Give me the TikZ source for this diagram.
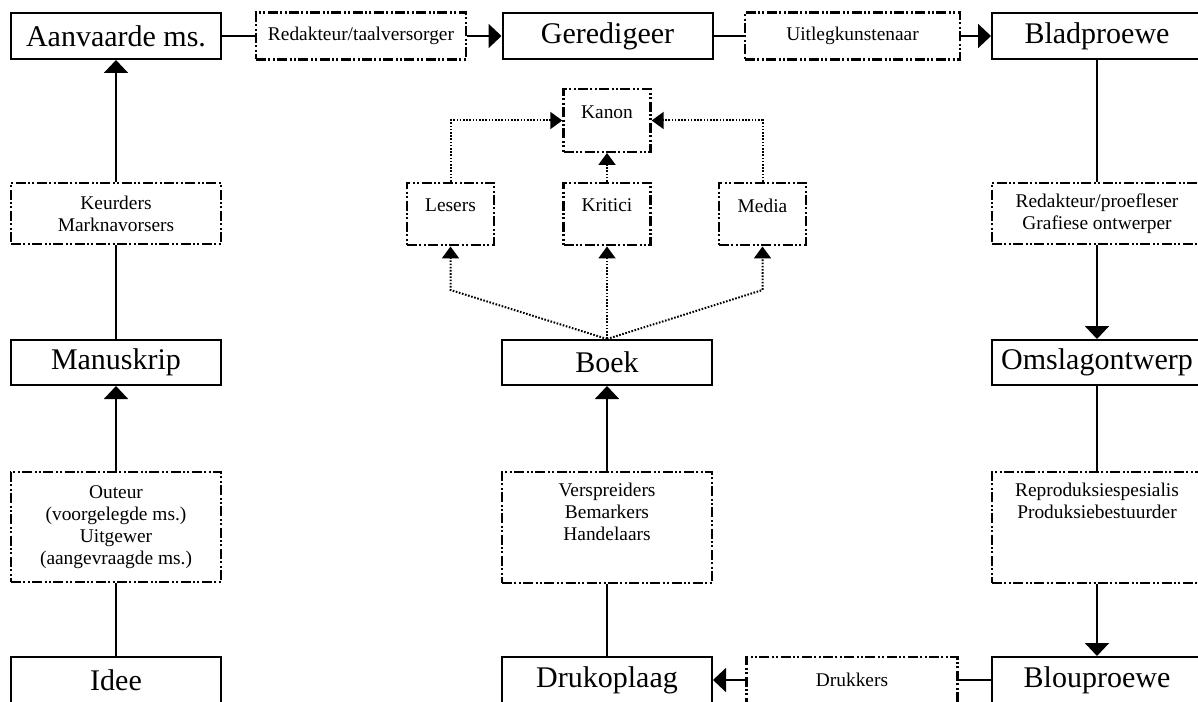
\documentclass[tikz,border=0pt]{standalone}
\usepackage{fontspec}
\setmainfont{Liberation Serif}
\usetikzlibrary{arrows.meta,calc}
\begin{document}
\begin{tikzpicture}[x=0.5pt,y=-0.5pt,
  mainbox/.style={draw, line width=1pt, inner sep=0pt, minimum width=105pt, minimum height=23pt, font=\fontsize{15}{18}\selectfont},
  ddbox/.style={draw, line width=1.2pt, dash pattern=on 5pt off 1.2pt on 1pt off 1.2pt on 1pt off 1.2pt, inner sep=0pt, align=center, minimum width=105pt, font=\fontsize{9.7}{11}\selectfont},
  smallbox/.style={ddbox, minimum width=43.5pt, minimum height=31.25pt, text depth=8.5pt},
  smalltext/.style={inner sep=0pt, align=center, font=\fontsize{9.7}{11}\selectfont},
  conn/.style={line width=1pt},
  arr/.style={conn, -{Triangle[width=12pt,length=6.5pt]}},
  dotconn/.style={line width=1pt, dash pattern=on 0.8pt off 0.8pt},
  dotarr/.style={dotconn, -{Triangle[width=8.5pt,length=6pt]}}
]
\useasboundingbox (0,0) rectangle (1198,701);
\clip (0,0) rectangle (1198,701);
% top row
\node[mainbox] (aan) at (116,36) {Aanvaarde ms.};
\node[ddbox, minimum height=23.5pt] (red1) at (361,36) {Redakteur/taalversorger};
\node[mainbox] (ger) at (607.5,36) {Geredigeer};
\node[ddbox, minimum width=107.5pt, minimum height=23.5pt] (uit) at (852.5,36) {Uitlegkunstenaar};
\node[mainbox] (blad) at (1097,36) {Bladproewe};
% left column
\node[ddbox, minimum height=30.5pt] (keur) at (116,213.5) {Keurders\\Marknavorsers};
\node[mainbox, minimum height=22.5pt] (manu) at (116,362.5) {Manuskrip};
\node[ddbox, minimum height=55pt] (out) at (116,527) {Outeur\\(voorgelegde ms.)\\Uitgewer\\(aangevraagde ms.)};
\node[mainbox] (idee) at (116,680) {Idee};
% centre column
\node[smallbox] (kanon) at (607,120.5) {Kanon};
\node[smallbox] (les) at (450.5,214) {Lesers};
\node[smallbox] (krit) at (607,214) {Kritici};
\node[smallbox] (med) at (762.5,214) {Media};
\node[mainbox, minimum height=22.5pt] (boek) at (607,362.5) {Boek};
\node[ddbox, minimum height=55.5pt] (versp) at (607,527.5) {};
\node[smalltext, anchor=north] (verspt) at ([yshift=-6pt]versp.north) {Verspreiders\\Bemarkers\\Handelaars};
\node[mainbox] (druk) at (607,680) {Drukoplaag};
\node[ddbox, minimum width=105.5pt, minimum height=23pt] (drukk) at (852,680) {Drukkers};
% right column
\node[ddbox, minimum height=30.5pt] (redp) at (1097,213.5) {Redakteur/proefleser\\Grafiese ontwerper};
\node[mainbox, minimum height=22.5pt] (oms) at (1097,362.5) {Omslagontwerp};
\node[ddbox, minimum height=55.5pt] (repr) at (1097,527.5) {};
\node[smalltext, anchor=north] (reprt) at ([yshift=-6pt]repr.north) {Reproduksiespesialis\\Produksiebestuurder};
\node[mainbox] (blou) at (1097,680) {Blouproewe};
% connectors
\draw[conn] (aan) -- (red1);
\draw[arr] (red1) -- (ger);
\draw[conn] (ger) -- (uit);
\draw[arr] (uit) -- (blad);
\draw[conn] (blad) -- (redp);
\draw[arr] (redp) -- (oms);
\draw[conn] (oms) -- (repr);
\draw[arr] (repr) -- (blou);
\draw[conn] (blou) -- (drukk);
\draw[arr] (drukk) -- (druk);
\draw[conn] (druk) -- (versp);
\draw[arr] (versp) -- (boek);
\draw[conn] (idee) -- (out);
\draw[arr] (out) -- (manu);
\draw[conn] (manu) -- (keur);
\draw[arr] (keur) -- (aan);
% dotted connectors
\coordinate (lb) at (450.5,290);
\coordinate (mb) at (762.5,290);
\draw[dotarr] (les.north) |- (kanon.west);
\draw[dotarr] (med.north) |- (kanon.east);
\draw[dotarr] (krit) -- (kanon);
\draw[dotarr] (boek.north) -- (lb) -- (les.south);
\draw[dotarr] (boek.north) -- (mb) -- (med.south);
\draw[dotarr] (boek) -- (krit);
\end{tikzpicture}
\end{document}
